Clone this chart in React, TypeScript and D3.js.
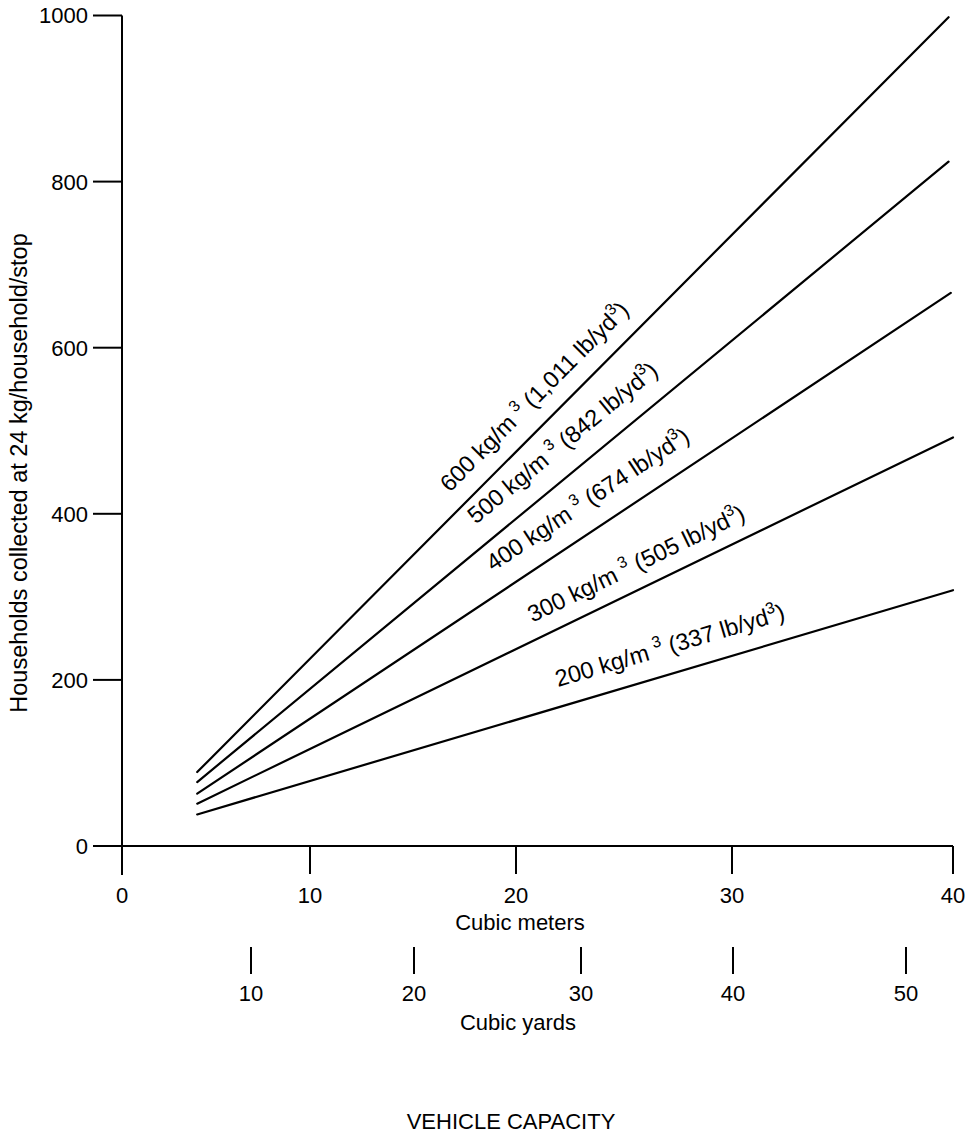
import React from "react";
import * as d3 from "d3";

// ---- data ----
const meterTicks = [0, 10, 20, 30, 40];
const yardTicks = [10, 20, 30, 40, 50];
const yTicks = [0, 200, 400, 600, 800, 1000];
const densities = [600, 500, 400, 300, 200]; // kg/m3
const densitiesImperial = ["1,011", "842", "674", "505", "337"]; // lb/yd3
const capacityStart = [4, 4, 4, 4, 4]; // m3
const capacityEnd = [39.8, 39.8, 39.9, 40, 40]; // m3
const householdsStart = [89, 77, 63, 51, 38];
const householdsEnd = [998, 824, 666, 492, 308];
const labelAt = [17.4, 18.7, 19.45, 21.1, 22.2]; // m3 along line where label starts

const W = 971;
const H = 1136;
const FONT = "'Liberation Sans', Arial, Helvetica, sans-serif";

export default function App() {
  // the printed scale is slightly uneven; follow its tick spacing
  const x = d3.scaleLinear().domain(meterTicks).range([122, 310, 516, 732, 953]);
  const xYd = d3.scaleLinear().domain(yardTicks).range([251, 414, 581, 733, 906]);
  const y = d3.scaleLinear().domain([0, 1000]).range([846, 15.5]);
  const line = d3.line<[number, number]>().x((d) => x(d[0])).y((d) => y(d[1]));

  const axisY0 = y(0);
  const axisX0 = x(0);
  const tickLen = 29;
  const labelOffsets = [18, 21, 21, 16.5, 19.5];

  return (
    <svg
      width={W}
      height={H}
      style={{ position: "absolute", left: 0, top: 0, background: "#fff" }}
      fontFamily={FONT}
    >
      <rect width={W} height={H} fill="#fff" />
      {/* axes */}
      <g stroke="#000" strokeWidth={2} fill="none">
        <line x1={axisX0} x2={axisX0} y1={y(1000)} y2={axisY0 + tickLen} />
        <line x1={axisX0 - tickLen} x2={x(40)} y1={axisY0} y2={axisY0} />
        {yTicks.map((t) => (
          <line key={"yt" + t} x1={axisX0 - tickLen} x2={axisX0} y1={y(t)} y2={y(t)} />
        ))}
        {meterTicks.map((t) => (
          <line key={"xt" + t} x1={x(t)} x2={x(t)} y1={axisY0} y2={axisY0 + 28} />
        ))}
        {yardTicks.map((t) => (
          <line key={"yd" + t} x1={xYd(t)} x2={xYd(t)} y1={947} y2={974} />
        ))}
      </g>

      {/* tick labels */}
      <g fontSize={22} fill="#000">
        {yTicks.map((t) => (
          <text key={"yl" + t} x={88} y={y(t)} dy="0.36em" textAnchor="end">
            {t}
          </text>
        ))}
        {meterTicks.map((t) => (
          <text key={"xl" + t} x={x(t)} y={903} textAnchor="middle">
            {t}
          </text>
        ))}
        {yardTicks.map((t) => (
          <text key={"ydl" + t} x={xYd(t)} y={1001} textAnchor="middle">
            {t}
          </text>
        ))}
        <text x={520} y={930} textAnchor="middle">
          Cubic meters
        </text>
        <text x={518} y={1030} textAnchor="middle">
          Cubic yards
        </text>
        <text x={511} y={1129} textAnchor="middle">
          VEHICLE CAPACITY
        </text>
        <text
          transform={`translate(27, 473) rotate(-90)`}
          textAnchor="middle"
          fontSize={23.5}
        >
          Households collected at 24 kg/household/stop
        </text>
      </g>

      {/* density lines */}
      <g stroke="#000" strokeWidth={2.2} fill="none" strokeLinecap="round">
        {densities.map((d, i) => (
          <path
            key={"ln" + d}
            d={
              line([
                [capacityStart[i], householdsStart[i]],
                [capacityEnd[i], householdsEnd[i]],
              ]) || ""
            }
          />
        ))}
      </g>

      {/* line labels */}
      <g fontSize={23.5} fill="#000">
        {densities.map((d, i) => {
          const x0 = x(capacityStart[i]);
          const y0 = y(householdsStart[i]);
          const x1 = x(capacityEnd[i]);
          const y1 = y(householdsEnd[i]);
          const ang = Math.atan2(y1 - y0, x1 - x0);
          const t = (x(labelAt[i]) - x0) / (x1 - x0);
          const px = x0 + t * (x1 - x0);
          const py = y0 + t * (y1 - y0);
          const off = labelOffsets[i];
          const nx = Math.sin(ang) * off;
          const ny = -Math.cos(ang) * off;
          return (
            <text
              key={"lb" + d}
              transform={`translate(${px + nx}, ${py + ny}) rotate(${(ang * 180) / Math.PI})`}
            >
              {`${d} kg/m`}
              <tspan dx={6} dy={-10} fontSize={16}>
                3
              </tspan>
              <tspan dy={10}>{` (${densitiesImperial[i]} lb/yd`}</tspan>
              <tspan dy={-10} fontSize={16}>
                3
              </tspan>
              <tspan dy={10}>)</tspan>
            </text>
          );
        })}
      </g>
    </svg>
  );
}
